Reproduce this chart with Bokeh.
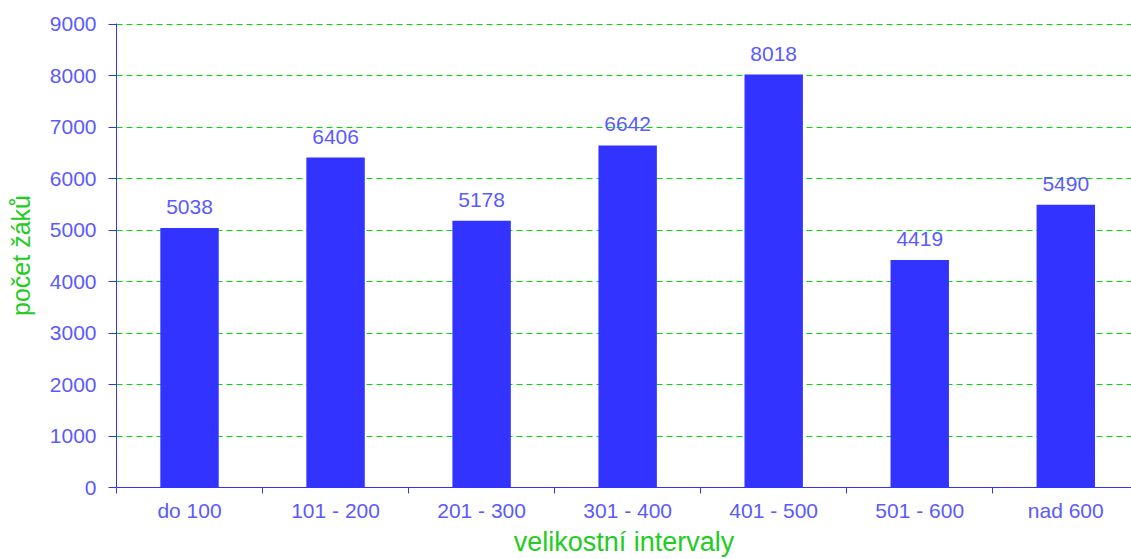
from bokeh.plotting import figure
from bokeh.models import ColumnDataSource, FixedTicker, Range1d
from bokeh.core.properties import value
from bokeh.embed import file_html
from bokeh.resources import INLINE

categories = ["do 100", "101 - 200", "201 - 300", "301 - 400", "401 - 500", "501 - 600", "nad 600"]
counts = [5038, 6406, 5178, 6642, 8018, 4419, 5490]
y_ticks = [0, 1000, 2000, 3000, 4000, 5000, 6000, 7000, 8000, 9000]

xs = [i + 0.5 for i in range(len(categories))]
src = ColumnDataSource(dict(x=xs, top=counts, label=[str(c) for c in counts]))

FONT = "Liberation Sans"
LBL = "#5a5aff"
GREEN = "#22cc22"

p = figure(width=1131, height=559, output_backend="svg", toolbar_location=None,
           x_range=Range1d(0, 6.95), y_range=Range1d(0, 9010),
           min_border_left=116, min_border_right=0, min_border_top=23, min_border_bottom=69)
p.outline_line_color = None
p.background_fill_color = "white"

p.vbar(x="x", top="top", width=0.4, source=src, color="#3333ff", line_color=None)
p.text(x="x", y="top", text="label", source=src, text_align="center", text_baseline="bottom",
       y_offset=-14, text_font=value(FONT), text_font_size="21px", text_color=LBL)

# x axis
p.xaxis.ticker = FixedTicker(ticks=xs, minor_ticks=list(range(len(categories) + 1)))
p.xaxis.major_label_overrides = {x: c for x, c in zip(xs, categories)}
p.xaxis.major_tick_out = 0
p.xaxis.major_tick_in = 0
p.xaxis.minor_tick_out = 6
p.xaxis.minor_tick_in = 0
p.xaxis.minor_tick_line_color = "#3333ff"
p.xaxis.axis_line_color = "#3333ff"
p.xaxis.major_label_text_font = FONT
p.xaxis.major_label_text_font_size = "21px"
p.xaxis.major_label_text_color = LBL
p.xaxis.major_label_standoff = 5
p.xaxis.axis_label = "velikostní intervaly"
p.xaxis.axis_label_text_font = FONT
p.xaxis.axis_label_text_font_size = "27px"
p.xaxis.axis_label_text_font_style = "normal"
p.xaxis.axis_label_text_color = GREEN
p.xaxis.axis_label_standoff = 2

# y axis
p.yaxis.ticker = FixedTicker(ticks=y_ticks)
p.yaxis.major_tick_out = 8
p.yaxis.major_tick_in = 0
p.yaxis.minor_tick_line_color = None
p.yaxis.major_tick_line_color = "#3333ff"
p.yaxis.axis_line_color = "#3333ff"
p.yaxis.major_label_text_font = FONT
p.yaxis.major_label_text_font_size = "21px"
p.yaxis.major_label_text_color = LBL
p.yaxis.major_label_standoff = 12
p.yaxis.axis_label = "počet žáků"
p.yaxis.axis_label_text_font = FONT
p.yaxis.axis_label_text_font_size = "25px"
p.yaxis.axis_label_text_font_style = "normal"
p.yaxis.axis_label_text_color = GREEN
p.yaxis.axis_label_standoff = 12

p.xgrid.grid_line_color = None
p.ygrid.grid_line_color = "#00dd00"
p.ygrid.grid_line_dash = "6 4"
p.ygrid.grid_line_width = 1

open("out.html", "w").write(file_html(p, INLINE))
